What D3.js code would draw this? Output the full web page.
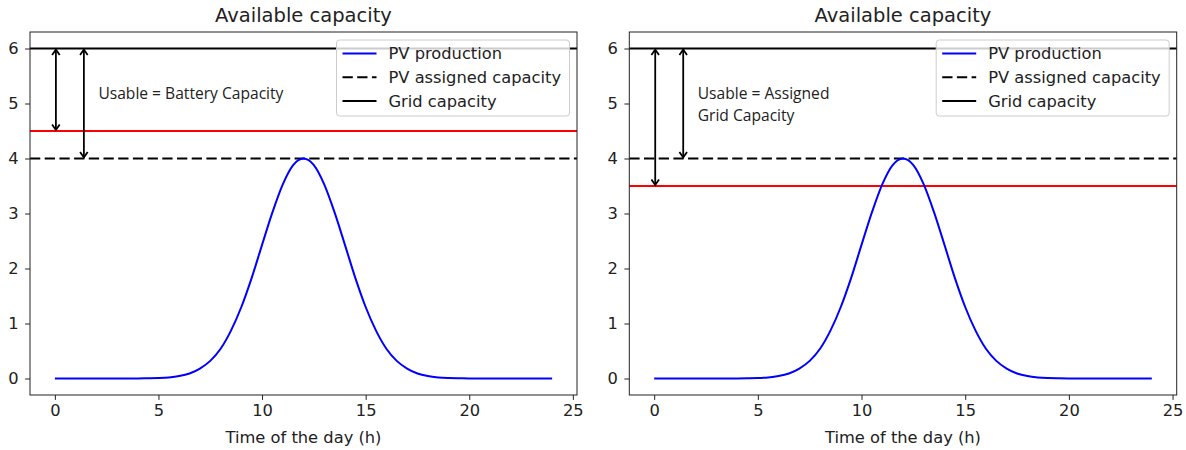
<!DOCTYPE html>
<html>
<head>
<meta charset="utf-8">
<script src="https://cdn.jsdelivr.net/npm/d3@7/dist/d3.min.js"></script>
<style>
  body { margin: 0; background: #fff; }
  svg text { font-family: "DejaVu Sans", sans-serif; fill: #222; }
  .note { font-family: "Open Sans", sans-serif; }
</style>
</head>
<body>
<div id="chart"></div>
<script>
// hours of the day (half hour steps)
const hours = [0, 0.5, 1, 1.5, 2, 2.5, 3, 3.5, 4, 4.5, 5, 5.5, 6, 6.5, 7, 7.5, 8, 8.5, 9, 9.5,
  10, 10.5, 11, 11.5, 12, 12.5, 13, 13.5, 14, 14.5, 15, 15.5, 16, 16.5, 17, 17.5, 18, 18.5, 19,
  19.5, 20, 20.5, 21, 21.5, 22, 22.5, 23, 23.5, 24];
// PV production
const pvProduction = [0, 0, 0, 0, 0, 0, 0, 0, 0.001, 0.004, 0.009, 0.02, 0.044, 0.091, 0.18, 0.32,
  0.54, 0.87, 1.30, 1.83, 2.43, 3.02, 3.53, 3.88, 4.00, 3.88, 3.53, 3.02, 2.43, 1.83, 1.30, 0.87,
  0.54, 0.32, 0.18, 0.091, 0.044, 0.02, 0.009, 0.004, 0.001, 0, 0, 0, 0, 0, 0, 0, 0];
const pvAssigned = 4;
const gridCapacity = 6;
const usableLevel = [4.5, 3.5];   // red line, left / right panel
const titles = ["Available capacity", "Available capacity"];
const notes = [["Usable = Battery Capacity"], ["Usable = Assigned", "Grid Capacity"]];
const xTicks = [0, 5, 10, 15, 20, 25];
const yTicks = [0, 1, 2, 3, 4, 5, 6];
const legendLabels = ["PV production", "PV assigned capacity", "Grid capacity"];

const W = 1186, H = 450;
const svg = d3.select("#chart").append("svg").attr("width", W).attr("height", H);

const defs = svg.append("defs");
["start", "end"].forEach(function (k) {
  defs.append("marker")
    .attr("id", "head-" + k)
    .attr("viewBox", "-7 -5 12 10")
    .attr("markerWidth", 12).attr("markerHeight", 10)
    .attr("markerUnits", "userSpaceOnUse")
    .attr("orient", k == "start" ? "auto-start-reverse" : "auto")
    .append("path")
    .attr("d", "M-5.5,-3.8 L0,0 L-5.5,3.8")
    .attr("fill", "none").attr("stroke", "#000").attr("stroke-width", 1.8);
});

const panels = [{ left: 30, right: 577 }, { left: 629.3, right: 1176.7 }];
const plotTop = 32, plotBottom = 395;

panels.forEach(function (p, i) {
  const x = d3.scaleLinear().domain([-1.2, 25.2]).range([p.left, p.right]);
  const y = d3.scaleLinear().domain([-0.3, 6.3]).range([plotBottom, plotTop]);
  const g = svg.append("g");

  // horizontal reference lines
  g.append("line").attr("x1", p.left).attr("x2", p.right)
    .attr("y1", y(gridCapacity)).attr("y2", y(gridCapacity))
    .attr("stroke", "#000").attr("stroke-width", 2);
  g.append("line").attr("x1", p.left).attr("x2", p.right)
    .attr("y1", y(pvAssigned)).attr("y2", y(pvAssigned))
    .attr("stroke", "#000").attr("stroke-width", 2).attr("stroke-dasharray", "10.3,4.4");
  g.append("line").attr("x1", p.left).attr("x2", p.right)
    .attr("y1", y(usableLevel[i])).attr("y2", y(usableLevel[i]))
    .attr("stroke", "#ff0000").attr("stroke-width", 2);

  // PV curve
  const line = d3.line()
    .x(function (d, j) { return x(hours[j]); })
    .y(function (d) { return y(d); })
    .curve(d3.curveMonotoneX);
  g.append("path").datum(pvProduction)
    .attr("d", line)
    .attr("fill", "none").attr("stroke", "#0000ff").attr("stroke-width", 2);

  // arrows
  const arrows = [
    { at: 0.05, from: gridCapacity, to: usableLevel[i] },
    { at: 1.4, from: gridCapacity, to: pvAssigned }
  ];
  arrows.forEach(function (a) {
    g.append("line")
      .attr("x1", x(a.at)).attr("x2", x(a.at))
      .attr("y1", y(a.from) + 1).attr("y2", y(a.to) - 1)
      .attr("stroke", "#000").attr("stroke-width", 1.8)
      .attr("marker-start", "url(#head-start)")
      .attr("marker-end", "url(#head-end)");
  });

  // annotation text
  const note = g.append("text").attr("class", "note")
    .style("font-size", "15.6px");
  notes[i].forEach(function (t, k) {
    note.append("tspan").attr("x", x(2.1)).attr("y", 99 + k * 22).text(t);
  });

  // axes
  const xAxis = g.append("g").attr("transform", "translate(0," + plotBottom + ")")
    .call(d3.axisBottom(x).tickValues(xTicks).tickFormat(d3.format("d"))
      .tickSize(4.9).tickPadding(4.5));
  const yAxis = g.append("g").attr("transform", "translate(" + p.left + ",0)")
    .call(d3.axisLeft(y).tickValues(yTicks).tickFormat(d3.format("d"))
      .tickSize(4.9).tickPadding(6.5));
  [xAxis, yAxis].forEach(function (ax) {
    ax.select(".domain").remove();
    ax.selectAll("line").attr("stroke", "#222").attr("stroke-width", 1);
    ax.selectAll("text").style("font-size", "16.3px").attr("fill", "#222")
      .style("font-family", "DejaVu Sans");
  });

  // frame
  g.append("rect").attr("x", p.left).attr("y", plotTop)
    .attr("width", p.right - p.left).attr("height", plotBottom - plotTop)
    .attr("fill", "none").attr("stroke", "#222").attr("stroke-width", 1);

  // title & label
  g.append("text").attr("x", (p.left + p.right) / 2).attr("y", 22)
    .attr("text-anchor", "middle").style("font-size", "19.5px").text(titles[i]);
  g.append("text").attr("x", (p.left + p.right) / 2).attr("y", 443)
    .attr("text-anchor", "middle").style("font-size", "16.3px").text("Time of the day (h)");

  // legend
  const lx = p.right - 240.5, ly = 40;
  const lg = g.append("g").attr("transform", "translate(" + lx + "," + ly + ")");
  lg.append("rect").attr("width", 233).attr("height", 76).attr("rx", 3)
    .attr("fill", "#fff").attr("fill-opacity", 0.8)
    .attr("stroke", "#ccc").attr("stroke-width", 1);
  const styles = [
    { c: "#0000ff", dash: null },
    { c: "#000", dash: "10.3,4.4" },
    { c: "#000", dash: null }
  ];
  legendLabels.forEach(function (lab, k) {
    const cy = 13.5 + k * 23.7;
    lg.append("line").attr("x1", 6).attr("x2", 40).attr("y1", cy).attr("y2", cy)
      .attr("stroke", styles[k].c).attr("stroke-width", 2)
      .attr("stroke-dasharray", styles[k].dash);
    lg.append("text").attr("x", 52).attr("y", cy + 5.8)
      .style("font-size", "16.3px").text(lab);
  });
});
</script>
</body>
</html>
